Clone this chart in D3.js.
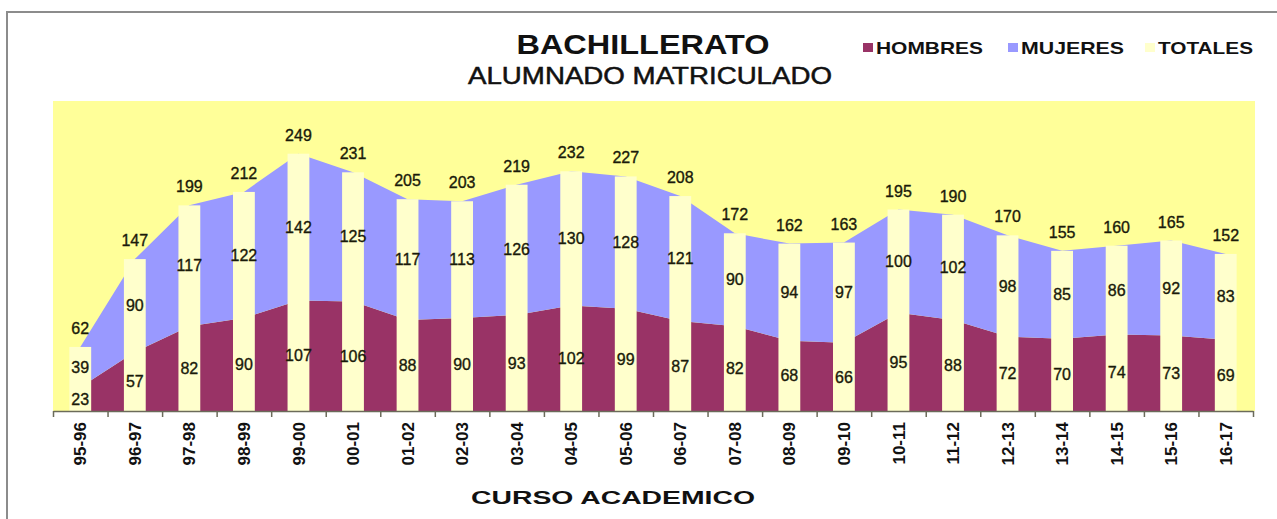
<!DOCTYPE html>
<html>
<head>
<meta charset="utf-8">
<script src="https://cdn.jsdelivr.net/npm/d3@7"></script>
<style>
  body { margin: 0; background: #fff; }
  text { font-family: "Liberation Sans", Arial, sans-serif; }
</style>
</head>
<body>
<div id="chart"></div>
<script>
// data
var categories = ["95-96","96-97","97-98","98-99","99-00","00-01","01-02","02-03","03-04","04-05","05-06",
                  "06-07","07-08","08-09","09-10","10-11","11-12","12-13","13-14","14-15","15-16","16-17"];
var hombres = [23,57,82,90,107,106,88,90,93,102,99,87,82,68,66,95,88,72,70,74,73,69];
var mujeres = [39,90,117,122,142,125,117,113,126,130,128,121,90,94,97,100,102,98,85,86,92,83];
var totales = [62,147,199,212,249,231,205,203,219,232,227,208,172,162,163,195,190,170,155,160,165,152];
var seriesNames = ["HOMBRES","MUJERES","TOTALES"];
var seriesColors = ["#993366","#9999FF","#FFFFCC"];

var W = 1277, H = 519;
var plot = {left: 53, right: 1253, top: 101, bottom: 411};

var svg = d3.select("#chart").append("svg")
    .attr("width", W)
    .attr("height", H);

// outer frame (cut by the picture on right and bottom)
svg.append("rect")
    .attr("x", 7).attr("y", 12)
    .attr("width", 1400).attr("height", 700)
    .attr("fill", "#fff")
    .attr("stroke", "#8c8c8c")
    .attr("stroke-width", 2);

// plot background
svg.append("rect")
    .attr("x", plot.left).attr("y", plot.top)
    .attr("width", plot.right - plot.left + 2)
    .attr("height", plot.bottom - plot.top)
    .attr("fill", "#FFFF99");

var x = d3.scaleBand()
    .domain(categories)
    .range([plot.left, plot.right])
    .paddingInner(0).paddingOuter(0);

var y = d3.scaleLinear()
    .domain([0, 300])
    .range([plot.bottom, plot.top]);

var rows = categories.map(function(c, i) {
    return {cat: c, hombres: hombres[i], mujeres: mujeres[i], total: totales[i]};
});

var stacked = d3.stack().keys(["hombres", "mujeres"])(rows);

var area = d3.area()
    .x(function(d) { return x(d.data.cat) + x.bandwidth() / 2; })
    .y0(function(d) { return y(d[0]); })
    .y1(function(d) { return y(d[1]); });

svg.append("g")
    .selectAll("path")
    .data(stacked)
    .enter().append("path")
    .attr("d", area)
    .attr("fill", function(d, i) { return seriesColors[i]; });

// totals as columns
var barW = x.bandwidth() * 0.4;
svg.append("g")
    .selectAll("rect")
    .data(rows)
    .enter().append("rect")
    .attr("x", function(d) { return x(d.cat) + x.bandwidth() / 2 - barW / 2; })
    .attr("y", function(d) { return y(d.total); })
    .attr("width", barW)
    .attr("height", function(d) { return y(0) - y(d.total); })
    .attr("fill", seriesColors[2]);

// value labels
var labels = svg.append("g")
    .attr("font-size", 16)
    .attr("fill", "#1a1a0a")
    .attr("stroke", "#1a1a0a")
    .attr("stroke-width", 0.35)
    .attr("text-anchor", "middle");

labels.selectAll(".lbl-h")
    .data(rows).enter().append("text")
    .attr("x", function(d) { return x(d.cat) + x.bandwidth() / 2; })
    .attr("y", function(d) { return (y(0) + y(d.hombres)) / 2; })
    .attr("dy", "0.35em")
    .text(function(d) { return d.hombres; });

labels.selectAll(".lbl-m")
    .data(rows).enter().append("text")
    .attr("x", function(d) { return x(d.cat) + x.bandwidth() / 2; })
    .attr("y", function(d) { return (y(d.hombres) + y(d.total)) / 2; })
    .attr("dy", "0.35em")
    .text(function(d) { return d.mujeres; });

labels.selectAll(".lbl-t")
    .data(rows).enter().append("text")
    .attr("x", function(d) { return x(d.cat) + x.bandwidth() / 2; })
    .attr("y", function(d) { return y(d.total) - 13; })
    .text(function(d) { return d.total; });

// x axis: ticks on category boundaries
var xb = d3.scaleLinear().domain([0, categories.length]).range([plot.left, plot.right]);
var axisG = svg.append("g")
    .attr("transform", "translate(0," + plot.bottom + ")")
    .call(d3.axisBottom(xb).tickValues(d3.range(categories.length + 1)).tickFormat("").tickSize(6).tickSizeOuter(0));
axisG.select(".domain").attr("stroke", "#6b6b5a").attr("stroke-width", 1.5);
axisG.selectAll(".tick line").attr("stroke", "#6b6b5a").attr("stroke-width", 1.5);

// rotated category labels
var catG = svg.append("g")
    .attr("transform", "translate(0," + plot.bottom + ")")
    .call(d3.axisBottom(x).tickSize(0).tickPadding(0));
catG.select(".domain").remove();
catG.selectAll("text")
    .attr("font-size", 17)
    .attr("font-weight", "bold")
    .attr("fill", "#111")
    .attr("text-anchor", "end")
    .attr("transform", "rotate(-90)")
    .attr("x", -11)
    .attr("y", 0)
    .attr("dy", "0.36em");

// titles
svg.append("text")
    .attr("x", 643).attr("y", 54)
    .attr("text-anchor", "middle")
    .attr("font-size", 28).attr("font-weight", "bold").attr("fill", "#111")
    .attr("textLength", 253).attr("lengthAdjust", "spacingAndGlyphs")
    .text("BACHILLERATO");

svg.append("text")
    .attr("x", 650).attr("y", 84)
    .attr("text-anchor", "middle")
    .attr("font-size", 23).attr("fill", "#111")
    .attr("stroke", "#111").attr("stroke-width", 0.5)
    .attr("textLength", 364).attr("lengthAdjust", "spacingAndGlyphs")
    .text("ALUMNADO MATRICULADO");

svg.append("text")
    .attr("x", 613).attr("y", 504)
    .attr("text-anchor", "middle")
    .attr("font-size", 19).attr("font-weight", "bold").attr("fill", "#111")
    .attr("textLength", 284).attr("lengthAdjust", "spacingAndGlyphs")
    .text("CURSO ACADEMICO");

// legend
var legendX = [863, 1008, 1145];
var legendW = [107, 103, 95];
var legend = svg.append("g");
seriesNames.forEach(function(name, i) {
    legend.append("rect")
        .attr("x", legendX[i]).attr("y", 43)
        .attr("width", 10).attr("height", 9)
        .attr("fill", seriesColors[i]);
    legend.append("text")
        .attr("x", legendX[i] + 13).attr("y", 54)
        .attr("font-size", 17).attr("font-weight", "bold").attr("fill", "#111")
        .attr("textLength", legendW[i]).attr("lengthAdjust", "spacingAndGlyphs")
        .text(name);
});
</script>
</body>
</html>
